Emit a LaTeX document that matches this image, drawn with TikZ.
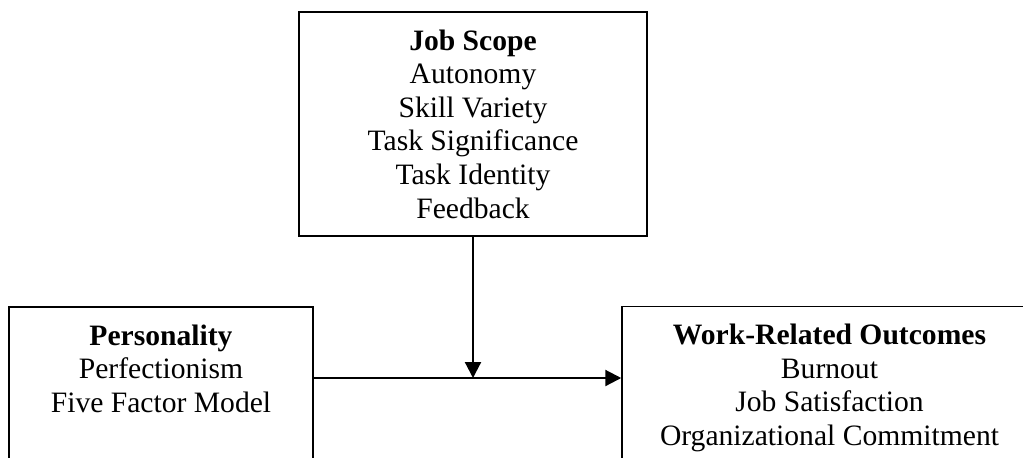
\documentclass[tikz,border=0pt]{standalone}
\usepackage{fontspec}
\setmainfont{Liberation Serif}
\usetikzlibrary{arrows.meta}

\begin{document}
\begin{tikzpicture}[x=0.5pt, y=-0.5pt,
    box/.style={draw, line width=0.75pt, inner sep=0pt},
    boxtext/.style={anchor=north, align=center, inner sep=0pt,
        font=\fontsize{14.8pt}{16.8pt}\selectfont},
    link/.style={line width=1.1pt, -{Triangle[length=8pt, width=8pt]}}]
    \useasboundingbox (0,0) rectangle (1023,457);
    \clip (0,0) rectangle (1023,457);

    % Boxes
    \node[box, minimum width=174pt, minimum height=112pt] (scope) at (473,124) {};
    \node[box, minimum width=152pt, minimum height=100pt] (pers) at (161,407) {};
    \node[box, minimum width=207.5pt, minimum height=100pt] (outc) at (829.5,406.5) {};

    % Texts
    \node[boxtext] (scope-txt) at ([yshift=-9pt]scope.north)
        {\textbf{Job Scope}\\Autonomy\\Skill Variety\\Task Significance\\Task Identity\\Feedback};
    \node[boxtext] (pers-txt) at ([yshift=-9pt]pers.north)
        {\textbf{Personality}\\Perfectionism\\Five Factor Model};
    \node[boxtext] (outc-txt) at ([yshift=-9pt]outc.north)
        {\textbf{Work-Related Outcomes}\\Burnout\\Job Satisfaction\\Organizational Commitment};

    % Arrows
    \coordinate (jn) at (473,378);
    \draw[link] (scope.south) -- (jn);
    \draw[link] (pers.east |- jn) -- (outc.west |- jn);
\end{tikzpicture}
\end{document}
